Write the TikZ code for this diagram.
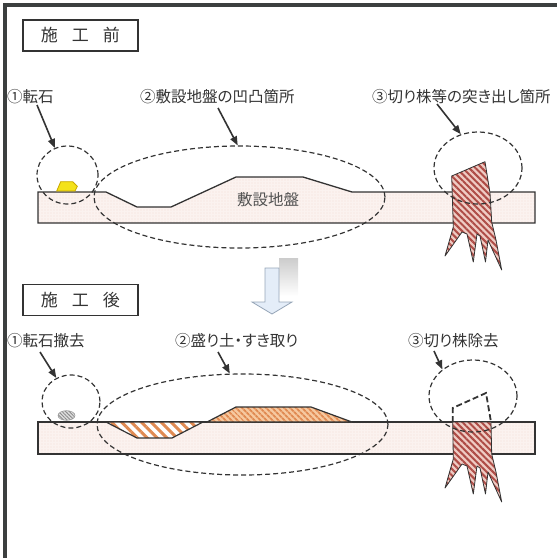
\documentclass[tikz,border=0pt]{standalone}
\usepackage{fontspec}
\newfontfamily\jpfont[RawFeature=+palt]{Noto Sans CJK JP}
\usetikzlibrary{arrows.meta, shapes.geometric, patterns.meta}

\definecolor{inkgray}{HTML}{333333}
\definecolor{framegray}{HTML}{3C3F3F}
\definecolor{groundpink}{HTML}{FBF2EF}
\definecolor{grounddot}{HTML}{E4B8AC}
\definecolor{stumppink}{HTML}{EFCBC3}
\definecolor{stumpred}{HTML}{AE4C46}
\definecolor{soilorange}{HTML}{E08A52}
\definecolor{moundfill}{HTML}{F6C9A0}
\definecolor{rockyellow}{HTML}{F4E21A}
\definecolor{rockedge}{HTML}{C9A800}
\definecolor{arrowblue}{HTML}{E4EDF8}
\definecolor{arrowedge}{HTML}{97A6B8}

\begin{document}
\begin{tikzpicture}[
        x=1pt, y=-1pt,
        titlebox/.style={draw=inkgray, line width=1.3pt, minimum width=115pt, minimum height=31pt,
            inner sep=0pt, font=\jpfont\fontsize{17}{20}\selectfont, text=inkgray},
        callout/.style={anchor=west, inner sep=0pt, font=\jpfont\fontsize{15.5}{18}\selectfont, text=inkgray},
        ring/.style={ellipse, draw=inkgray, dash pattern=on 5pt off 3pt, line width=1.2pt, inner sep=0pt},
        ptr/.style={draw=inkgray, line width=1.6pt, -{Triangle[length=9pt, width=7pt]}},
        ground/.style={fill=groundpink,
            postaction={pattern={Dots[distance=3pt, radius=0.45pt]}, pattern color=grounddot},
            postaction={draw=inkgray, line width=1.3pt}},
        stump/.style={fill=stumppink,
            postaction={pattern={Lines[angle=-45, distance=4.5pt, line width=2pt]}, pattern color=stumpred},
            postaction={draw=inkgray, line width=0.8pt, line join=round}},
        gone/.style={draw=inkgray, dash pattern=on 6pt off 3pt, line width=1.8pt},
        >=Stealth]

        \useasboundingbox (0,0) rectangle (557,558);

        % outer frame (only left and top edges fall inside)
        \draw[line width=3.5pt, draw=framegray] (5,558) -- (5,5) -- (557,5);

        % --- TOP: before the works ---
        \node[titlebox] (before) at (80.5,35.5) {施\hspace{14pt}工\hspace{14pt}前};

        % bed with its dip and bump
        \path[ground] (38,192) -- (106,192) -- (137,207) -- (171,207) -- (236,177) -- (303,177)
            -- (352,192) -- (535,192) -- (535,223) -- (38,223) -- cycle;
        \node[font=\jpfont\fontsize{15.5}{18}\selectfont, text=inkgray!85] (bed) at (268,200) {敷設地盤};

        % boulder
        \draw[fill=rockyellow, draw=rockedge, line width=0.8pt]
            (56.7,191) -- (60.7,181.7) -- (72.7,181.7) -- (77.3,186.3) -- (75,191) -- cycle;

        % stump sticking out
        \path[stump] (451.7,176) -- (453.3,227) -- (445,256) -- (462,232) -- (467,234)
            -- (473.3,262) -- (477,234) -- (480,236) -- (485.5,262) -- (488,240) -- (501.7,270)
            -- (496,240) -- (491.7,222) -- (490,193) -- (485,161.7) -- cycle;

        \node[ring, minimum width=61pt, minimum height=58pt] (rock1) at (67.5,175) {};
        \node[ring, minimum width=291pt, minimum height=102pt] (bed1) at (239.5,197) {};
        \node[ring, minimum width=88pt, minimum height=72pt] (stump1) at (478,168) {};

        \node[callout] (lab1) at (7,97) {①転石};
        \node[callout] (lab2) at (140,97) {②敷設地盤の凹凸箇所};
        \node[callout] (lab3) at (372,97) {③切り株等の突き出し箇所};

        \coordinate (from1) at (37,105);
        \coordinate (from2) at (218,108);
        \coordinate (from3) at (437,104);
        \draw[ptr] (from1) -- (rock1.115);
        \draw[ptr] (from2) -- (bed1.92);
        \draw[ptr] (from3) -- (stump1.117);

        % down arrow between the two stages
        \shade[top color=black!20, bottom color=white] (279,258) rectangle (298,296);
        \draw[fill=arrowblue, draw=arrowedge, line width=0.8pt]
            (265,268) -- (279,268) -- (279,302) -- (292,302) -- (272,314) -- (252,302) -- (265,302) -- cycle;

        % --- BOTTOM: after the works ---
        \node[titlebox] (after) at (80.5,300) {施\hspace{14pt}工\hspace{14pt}後};

        \path[ground] (38,422) rectangle (535,454);

        % filled dip and cut bump
        \path[fill=white, postaction={pattern={Lines[angle=-45, distance=7pt, line width=3pt]}, pattern color=soilorange},
            postaction={draw=inkgray, line width=1.2pt}]
            (106,422) -- (137,438) -- (172,438) -- (203,422) -- cycle;
        \path[fill=moundfill, postaction={pattern={Lines[angle=-45, distance=4pt, line width=2pt]}, pattern color=soilorange},
            postaction={draw=inkgray, line width=1.2pt}]
            (207,422) -- (236,407) -- (311,407) -- (352,422) -- cycle;

        % removed boulder
        \path[fill=black!12, postaction={pattern={Lines[angle=-45, distance=2.5pt, line width=0.9pt]}, pattern color=black!45},
            postaction={draw=black!40, line width=0.6pt}]
            (66.5,415.5) ellipse [x radius=8.5pt, y radius=4.8pt];

        % stump cut flush with the ground
        \path[stump] (452.7,422) -- (453.3,459) -- (445,488) -- (462,464) -- (467,466)
            -- (473.3,494) -- (477,466) -- (480,468) -- (485.5,494) -- (488,472) -- (501.7,502)
            -- (496,472) -- (491.7,454) -- (491,422) -- cycle;
        \draw[gone] (452.7,422) -- (452.7,408) -- (486,393) -- (491,422);

        \node[ring, minimum width=58pt, minimum height=53pt] (rock2) at (71,401.5) {};
        \node[ring, minimum width=291pt, minimum height=101pt] (bed2) at (242.5,424.5) {};
        \node[ring, minimum width=88pt, minimum height=72pt] (stump2) at (473,396) {};

        \node[callout] (lab4) at (7,341) {①転石撤去};
        \node[callout] (lab5) at (175,341) {②盛り土・すき取り};
        \node[callout] (lab6) at (408,341) {③切り株除去};

        \coordinate (from4) at (40,352);
        \coordinate (from5) at (218,352);
        \coordinate (from6) at (434,351);
        \draw[ptr] (from4) -- (rock2.122);
        \draw[ptr] (from5) -- (bed2.104);
        \draw[ptr] (from6) -- (stump2.139);

    \end{tikzpicture}
\end{document}
